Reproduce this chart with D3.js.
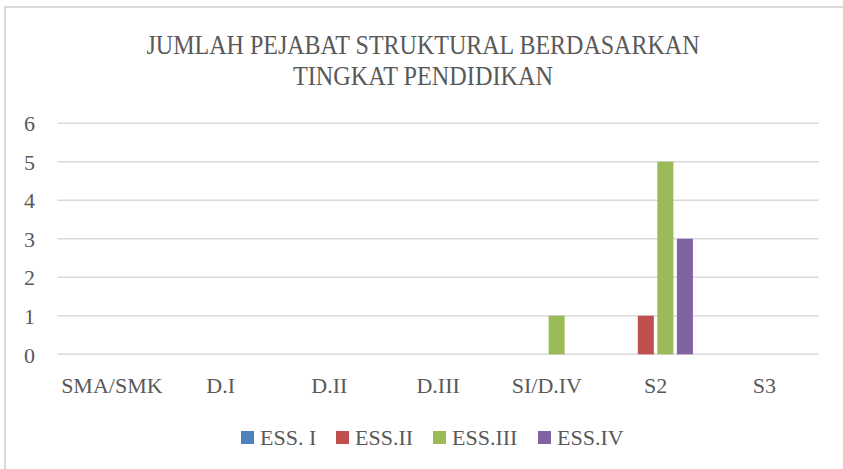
<!DOCTYPE html>
<html>
<head>
<meta charset="utf-8">
<script src="https://cdn.jsdelivr.net/npm/d3@7"></script>
<style>
  body { margin: 0; background: #fff; }
</style>
</head>
<body>
<div id="chart"></div>
<script>
const categories = ["SMA/SMK", "D.I", "D.II", "D.III", "SI/D.IV", "S2", "S3"];
const series = ["ESS. I", "ESS.II", "ESS.III", "ESS.IV"];
const ess1 = [0, 0, 0, 0, 0, 0, 0];
const ess2 = [0, 0, 0, 0, 0, 1, 0];
const ess3 = [0, 0, 0, 0, 1, 5, 0];
const ess4 = [0, 0, 0, 0, 0, 3, 0];
const yTicks = [0, 1, 2, 3, 4, 5, 6];
const titleLines = ["JUMLAH PEJABAT STRUKTURAL BERDASARKAN", "TINGKAT PENDIDIKAN"];

const colors = ["#4f81bd", "#c0504d", "#9bbb59", "#8064a2"];
const values = [ess1, ess2, ess3, ess4];
const FONT = "Liberation Serif";

const width = 843;
const height = 469;

var svg = d3.select("#chart").append("svg")
    .attr("width", width)
    .attr("height", height)
    .attr("font-family", FONT);

// chart area border (top and left visible)
svg.append("path")
    .attr("d", "M5,469 L5,7 L843,7")
    .attr("fill", "none")
    .attr("stroke", "#d9d9d9")
    .attr("stroke-width", 2);

// title
svg.append("g").selectAll("text")
    .data(titleLines)
    .join("text")
    .attr("x", 423)
    .attr("y", (d, i) => 54 + i * 31)
    .attr("text-anchor", "middle")
    .attr("font-size", 28)
    .attr("font-family", FONT)
    .attr("fill", "#595959")
    .attr("textLength", (d, i) => i === 0 ? 553 : 260)
    .attr("lengthAdjust", "spacingAndGlyphs")
    .text(d => d);

const x0 = d3.scaleBand().domain(categories).range([57.5, 818.7]);
const x1 = d3.scaleBand().domain(series).range([0, x0.bandwidth()])
    .paddingInner(0.18).paddingOuter(0.87);
const y = d3.scaleLinear().domain([0, 6]).range([354.3, 123.2]);

// gridlines
svg.append("g")
    .selectAll("line")
    .data(yTicks)
    .join("line")
    .attr("x1", 57.5)
    .attr("x2", 818.7)
    .attr("y1", d => y(d))
    .attr("y2", d => y(d))
    .attr("stroke", "#d9d9d9")
    .attr("stroke-width", 1.5);

// y axis labels
var yAxis = d3.axisLeft(y).tickValues(yTicks).tickFormat(d3.format("d"))
    .tickSize(0).tickPadding(0);
svg.append("g")
    .attr("transform", "translate(35,0)")
    .call(yAxis)
    .attr("font-family", FONT)
    .call(g => g.select(".domain").remove())
    .call(g => g.selectAll("text")
        .attr("font-size", 22)
        .attr("fill", "#595959")
        .attr("dy", "0.35em"));

// bars
const groups = svg.append("g")
    .selectAll("g")
    .data(series)
    .join("g")
    .attr("fill", (d, i) => colors[i]);

groups.selectAll("rect")
    .data((s, si) => categories.map((c, ci) => ({ s: s, c: c, v: values[si][ci] })))
    .join("rect")
    .attr("x", d => x0(d.c) + x1(d.s))
    .attr("width", x1.bandwidth())
    .attr("y", d => y(d.v))
    .attr("height", d => y(0) - y(d.v));

// x axis labels
var xAxis = d3.axisBottom(x0).tickSize(0).tickPadding(0);
svg.append("g")
    .attr("transform", "translate(0,377)")
    .call(xAxis)
    .attr("font-family", FONT)
    .call(g => g.select(".domain").remove())
    .call(g => g.selectAll("text")
        .attr("font-size", 22)
        .attr("fill", "#595959")
        .attr("dy", "0.71em"));

// legend
const legendX = [241, 336, 433, 538];
const legend = svg.append("g")
    .selectAll("g")
    .data(series)
    .join("g")
    .attr("transform", (d, i) => "translate(" + legendX[i] + ",431)");

legend.append("rect")
    .attr("width", 13)
    .attr("height", 13)
    .attr("fill", (d, i) => colors[i]);

legend.append("text")
    .attr("x", 19)
    .attr("y", 14)
    .attr("font-size", 22)
    .attr("font-family", FONT)
    .attr("fill", "#595959")
    .text(d => d);
</script>
</body>
</html>
